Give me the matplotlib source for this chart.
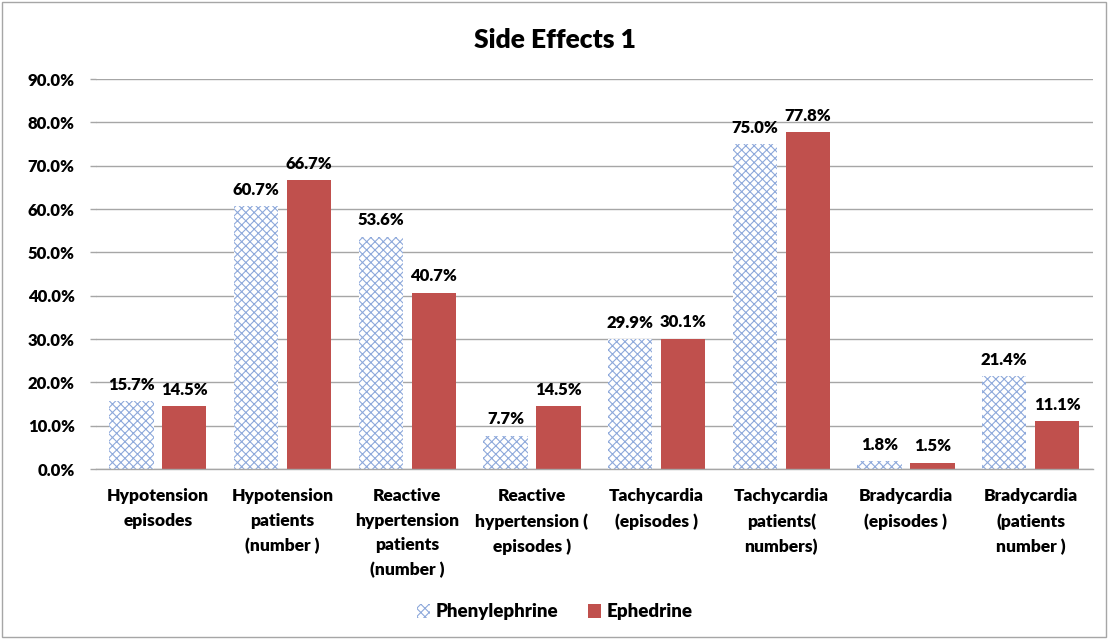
import matplotlib
matplotlib.use("Agg")
import matplotlib.pyplot as plt
import numpy as np
from matplotlib.patches import Rectangle, Patch

categories = ["Hypotension\nepisodes", "Hypotension\npatients\n(number )",
              "Reactive\nhypertension\npatients\n(number )", "Reactive\nhypertension (\nepisodes )",
              "Tachycardia\n(episodes )", "Tachycardia\npatients(\nnumbers)",
              "Bradycardia\n(episodes )", "Bradycardia\n(patients\nnumber )"]
phenylephrine = [15.7, 60.7, 53.6, 7.7, 29.9, 75.0, 1.8, 21.4]
ephedrine = [14.5, 66.7, 40.7, 14.5, 30.1, 77.8, 1.5, 11.1]
yticks = [0, 10, 20, 30, 40, 50, 60, 70, 80, 90]

plt.rcParams['font.family'] = ['Lato', 'DejaVu Sans']
plt.rcParams['hatch.linewidth'] = 0.8
W = 'heavy'

fig = plt.figure(figsize=(11.1, 6.39), dpi=100)
ax = fig.add_axes([95.6/1110, 1-469/639, (1093-95.6)/1110, (469-79)/639])

x = np.arange(len(categories))
w = 0.355
off = 0.212
b1 = ax.bar(x - off, phenylephrine, w, facecolor='white', edgecolor='#8EA9DB',
            hatch='xxxx', linewidth=0, label='Phenylephrine')
b2 = ax.bar(x + off, ephedrine, w, color='#C0504D', label='Ephedrine')

for bars, vals in ((b1, phenylephrine), (b2, ephedrine)):
    for r, v in zip(bars, vals):
        ax.annotate(f"{v:.1f}%", (r.get_x() + r.get_width()/2, r.get_height()),
                    xytext=(0, 6), textcoords='offset points', ha='center', va='bottom',
                    fontsize=12, fontweight=W, color='black')

ax.set_xlim(-0.5, len(categories) - 0.5)
ax.set_ylim(0, 90)
ax.set_yticks(yticks)
ax.set_yticklabels([f"{t:.1f}%" for t in yticks], fontsize=12, fontweight=W)
ax.set_xticks(x)
ax.set_xticklabels(categories, fontsize=12.5, fontweight=W, linespacing=1.65, va='top')
ax.tick_params(axis='x', length=0, pad=14)
ax.tick_params(axis='y', length=4, color='#A6A6A6', width=1, pad=11)
ax.yaxis.grid(True, color='#A6A6A6', linewidth=1)
ax.set_axisbelow(True)
for s in ['top', 'right', 'left']:
    ax.spines[s].set_visible(False)
ax.spines['bottom'].set_color('#A6A6A6')
ax.spines['bottom'].set_linewidth(1)

fig.text(0.5, 1 - 40/639, "Side Effects 1", ha='center', va='center',
         fontsize=19, fontweight=W)

handles = [Patch(facecolor='white', edgecolor='#8EA9DB', hatch='xxxx', linewidth=0, label='Phenylephrine'),
           Patch(facecolor='#C0504D', label='Ephedrine')]
fig.legend(handles=handles, loc='center', bbox_to_anchor=(0.5, 1 - 612/639), ncol=2,
           frameon=False, prop={'size': 13.5, 'weight': W}, handlelength=0.7,
           handleheight=0.7, handletextpad=0.3, columnspacing=1.6)

fig.patches.append(Rectangle((2/1110, 2/639), 1104/1110, 635/639, transform=fig.transFigure,
                             fill=False, edgecolor='#A6A6A6', linewidth=1))

fig.savefig("out.png", dpi=100)
